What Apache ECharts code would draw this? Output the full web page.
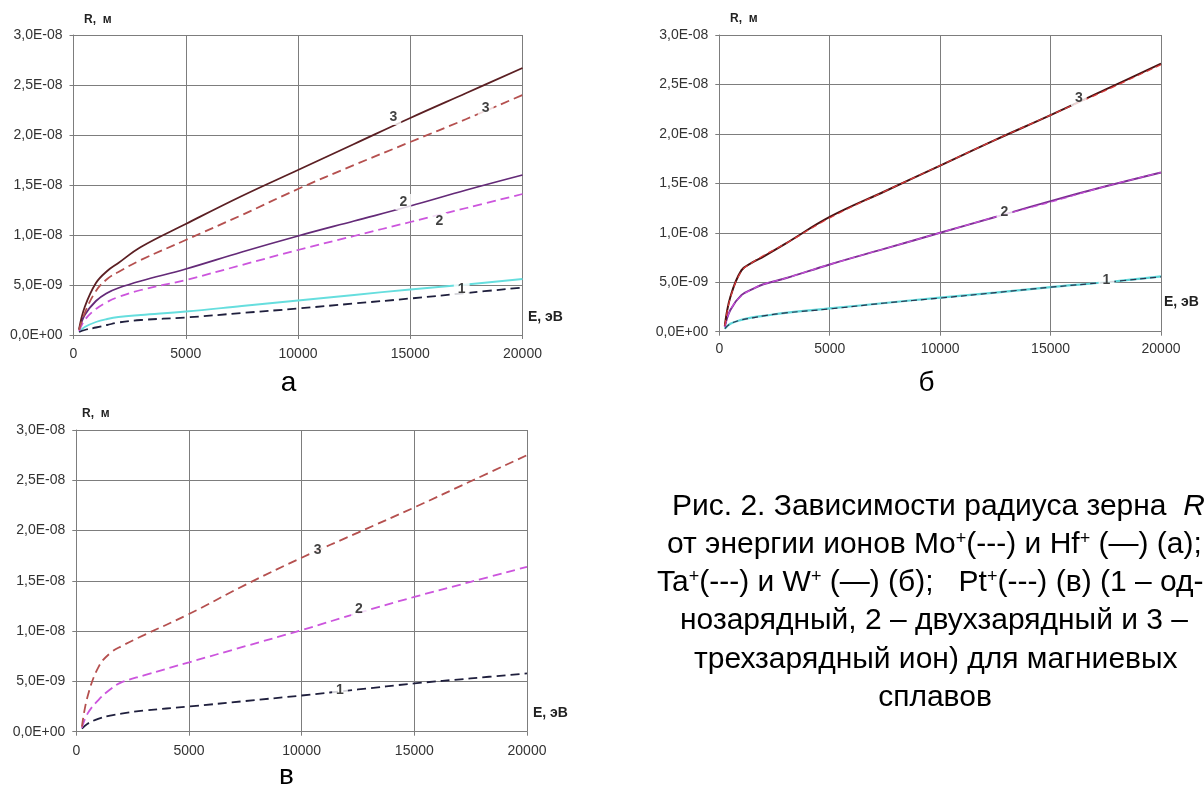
<!DOCTYPE html>
<html>
<head>
<meta charset="utf-8">
<script src="https://cdn.jsdelivr.net/npm/echarts@6/dist/echarts.min.js"></script>
<style>
  html, body { margin: 0; padding: 0; background: #fff; }
  #chart { width: 1204px; height: 792px; }
</style>
</head>
<body>
<div id="chart"></div>
<script>
// energies, eV
var energy = [250, 500, 1000, 1500, 2000, 3000, 5000, 7500, 10000, 12500, 15000, 17500, 20000];

// R values in units of 1e-9 m
// (а) Hf+ solid, Mo+ dashed
var hf3 = [0.6, 2.8, 5.2, 6.4, 7.2, 8.8, 11.1, 13.9, 16.5, 19.1, 21.7, 24.2, 26.7];
var mo3 = [0.5, 2.2, 4.4, 5.6, 6.3, 7.5, 9.5, 12.0, 14.6, 17.0, 19.3, 21.6, 24.0];
var hf2 = [0.5, 2.0, 3.4, 4.2, 4.7, 5.4, 6.6, 8.3, 9.9, 11.4, 12.9, 14.5, 16.0];
var mo2 = [0.4, 1.5, 2.6, 3.3, 3.8, 4.5, 5.5, 7.0, 8.5, 9.9, 11.3, 12.7, 14.1];
var hf1 = [0.3, 0.8, 1.3, 1.6, 1.8, 2.0, 2.35, 2.9, 3.45, 4.0, 4.55, 5.05, 5.6];
var mo1 = [0.3, 0.5, 0.75, 1.0, 1.25, 1.5, 1.75, 2.2, 2.65, 3.15, 3.65, 4.2, 4.75];

// (б) W+ solid, Ta+ dashed
var w3 = [0.6, 3.5, 6.2, 7.0, 7.6, 8.9, 11.6, 14.2, 16.8, 19.4, 21.9, 24.5, 27.1];
var ta3 = [0.6, 3.4, 6.1, 7.0, 7.7, 8.9, 11.5, 14.2, 16.8, 19.4, 21.9, 24.4, 27.0];
var w2 = [0.5, 2.2, 3.7, 4.3, 4.8, 5.4, 6.8, 8.4, 10.0, 11.6, 13.2, 14.7, 16.1];
var ta2 = [0.5, 2.2, 3.6, 4.3, 4.8, 5.4, 6.8, 8.4, 10.0, 11.6, 13.1, 14.7, 16.1];
var w1 = [0.3, 0.8, 1.2, 1.45, 1.6, 1.9, 2.35, 2.9, 3.45, 3.95, 4.5, 5.0, 5.6];
var ta1 = [0.3, 0.8, 1.2, 1.4, 1.6, 1.9, 2.3, 2.9, 3.4, 3.95, 4.5, 5.0, 5.55];

// (в) Pt+ dashed
var pt3 = [0.5, 3.5, 6.5, 7.8, 8.5, 9.6, 11.7, 14.6, 17.3, 19.8, 22.3, 24.9, 27.5];
var pt2 = [0.4, 1.8, 3.2, 4.2, 4.9, 5.6, 6.9, 8.5, 10.1, 11.8, 13.4, 14.9, 16.4];
var pt1 = [0.3, 0.8, 1.3, 1.6, 1.8, 2.1, 2.5, 3.05, 3.6, 4.2, 4.8, 5.3, 5.8];

var yTickLabels = ['0,0E+00', '5,0E-09', '1,0E-08', '1,5E-08', '2,0E-08', '2,5E-08', '3,0E-08'];
var xTickLabels = ['0', '5000', '10000', '15000', '20000'];

// curve number labels: [E, R, text]
var marksA = [[14245, 21.8, '3'], [18361, 22.7, '3'], [14690, 13.3, '2'], [16294, 11.4, '2'], [17292, 4.6, '1']];
var marksB = [[16278, 23.6, '3'], [12914, 12.1, '2'], [17532, 5.2, '1']];
var marksC = [[10712, 18.1, '3'], [12545, 12.2, '2'], [11702, 4.15, '1']];

var FONT = 'Liberation Sans, Arial, sans-serif';
var GRIDC = '#7d7d7d';

function pairs(ys) {
  return energy.map(function (e, i) { return [e, ys[i]]; });
}

function xAx(idx, margin) {
  return {
    type: 'value', gridIndex: idx, min: 0, max: 20000, interval: 5000,
    axisLine: { show: true, lineStyle: { color: GRIDC, width: 1 } },
    axisTick: { show: true, length: 4, lineStyle: { color: GRIDC } },
    splitLine: { show: true, lineStyle: { color: GRIDC, width: 1 } },
    axisLabel: {
      margin: margin, fontSize: 14, color: '#333', fontFamily: FONT,
      formatter: function (v) { return xTickLabels[Math.round(v / 5000)]; }
    }
  };
}

function yAx(idx) {
  return {
    type: 'value', gridIndex: idx, min: 0, max: 30, interval: 5,
    axisLine: { show: true, lineStyle: { color: GRIDC, width: 1 } },
    axisTick: { show: true, length: 4, lineStyle: { color: GRIDC } },
    splitLine: { show: true, lineStyle: { color: GRIDC, width: 1 } },
    axisLabel: {
      margin: 11, fontSize: 14, color: '#333', fontFamily: FONT,
      formatter: function (v) { return yTickLabels[Math.round(v / 5)]; }
    }
  };
}

function curve(idx, ys, color, dashed, width) {
  return {
    type: 'line', xAxisIndex: idx, yAxisIndex: idx,
    data: pairs(ys), showSymbol: false, smooth: 0.4,
    silent: true, z: dashed ? 3 : 2,
    lineStyle: { color: color, width: width || 1.8, type: dashed ? dashed : 'solid' }
  };
}

function marks(idx, list) {
  return {
    type: 'scatter', xAxisIndex: idx, yAxisIndex: idx, data: list,
    symbolSize: 0.1, silent: true, z: 10,
    itemStyle: { color: 'rgba(0,0,0,0)' },
    label: {
      show: true, position: 'inside', fontFamily: FONT, fontWeight: 'bold', fontSize: 14,
      color: '#111', backgroundColor: '#fff', padding: [1, 4],
      formatter: function (p) { return p.value[2]; }
    }
  };
}

function txt(x, y, text, size, opts) {
  opts = opts || {};
  return {
    type: 'text', x: x, y: y, silent: true,
    style: {
      text: text, fontFamily: FONT, fontSize: size,
      fontWeight: opts.bold ? 'bold' : 'normal',
      fill: opts.color || '#000',
      align: opts.align || 'left', textAlign: opts.align || 'left',
      verticalAlign: 'middle', textVerticalAlign: 'middle',
      rich: opts.rich
    }
  };
}

var capRich = {
  s: { fontFamily: FONT, fontSize: 18, verticalAlign: 'top', lineHeight: 18, fill: '#000' },
  i: { fontFamily: FONT, fontSize: 30, fontStyle: 'italic', fill: '#000' }
};
var CAP = 30;

var chart = echarts.init(document.getElementById('chart'), null, { renderer: 'canvas' });

var option = {
  backgroundColor: '#fff',
  animation: false,
  grid: [
    { left: 73.5, top: 35, width: 449, height: 300 },
    { left: 719.3, top: 35, width: 441.7, height: 296.7 },
    { left: 76.3, top: 430, width: 450.7, height: 301.7 }
  ],
  xAxis: [xAx(0, 12), xAx(1, 10), xAx(2, 12)],
  yAxis: [yAx(0), yAx(1), yAx(2)],
  series: [
    curve(0, hf1, '#66dede'),
    curve(0, mo1, '#1f1f3d', [9, 5]),
    curve(0, hf2, '#642a78'),
    curve(0, mo2, '#cc55dd', [9, 5]),
    curve(0, hf3, '#5b1f23'),
    curve(0, mo3, '#b5504f', [9, 5]),
    marks(0, marksA),

    curve(1, w1, '#5ed6d9', null, 2.2),
    curve(1, ta1, '#2a3650', [6, 4], 1.2),
    curve(1, w2, '#7d2f93', null, 2),
    curve(1, ta2, '#c650d8', [6, 4], 1.2),
    curve(1, w3, '#4a1212', null, 2),
    curve(1, ta3, '#d83a3a', [6, 4], 1.2),
    marks(1, marksB),

    curve(2, pt1, '#1f1f3d', [9, 5]),
    curve(2, pt2, '#cc55dd', [9, 5]),
    curve(2, pt3, '#b5504f', [9, 5]),
    marks(2, marksC)
  ],
  graphic: [
    txt(84, 20, 'R,  м', 12, { bold: true, color: '#222' }),
    txt(730, 19, 'R,  м', 12, { bold: true, color: '#222' }),
    txt(82, 414, 'R,  м', 12, { bold: true, color: '#222' }),
    txt(528, 317, 'E, эВ', 14, { bold: true, color: '#222' }),
    txt(1164, 302, 'E, эВ', 14, { bold: true, color: '#222' }),
    txt(533, 713, 'E, эВ', 14, { bold: true, color: '#222' }),

    txt(288.5, 383, 'а', 28, { align: 'center' }),
    txt(926.5, 383, 'б', 28, { align: 'center' }),
    txt(286.5, 776, 'в', 28, { align: 'center' }),

    // caption (cut by the right edge, as in the source)
    txt(672, 507, 'Рис. 2. Зависимости радиуса зерна  {i|R}', CAP, { rich: capRich }),
    txt(667, 545, 'от энергии ионов Mo{s|+}(---) и Hf{s|+} (—) (а);', CAP, { rich: capRich }),
    txt(657, 583, 'Ta{s|+}(---) и W{s|+} (—) (б);   Pt{s|+}(---) (в) (1 – од-', CAP, { rich: capRich }),
    txt(680, 621, 'нозарядный, 2 – двухзарядный и 3 –', CAP),
    txt(694, 660, 'трехзарядный ион) для магниевых', CAP),
    txt(935, 698, 'сплавов', CAP, { align: 'center' })
  ]
};

chart.setOption(option);
</script>
</body>
</html>
